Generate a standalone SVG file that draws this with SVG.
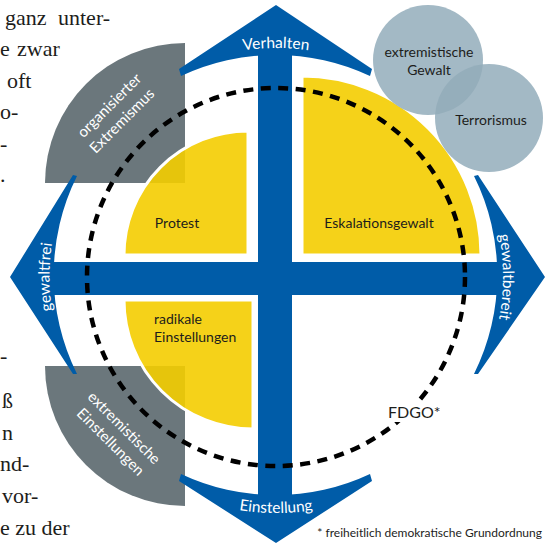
<svg xmlns="http://www.w3.org/2000/svg" width="550" height="543" viewBox="0 0 550 543">
<defs>
<style>
.blue{fill:#005ca8}
.gray{fill:#6b777c}
.yel{fill:#f4cd00;fill-opacity:0.9;stroke:#fff;stroke-width:3}
.lbl{font-family:Lato,"Open Sans",sans-serif;font-size:14px;fill:#1d1d1b}
.fd{font-family:Lato,"Open Sans",sans-serif;font-size:16px;fill:#1d1d1b}
.fn{font-family:Lato,"Open Sans",sans-serif;font-size:12px;fill:#1d1d1b}
.wt{font-family:Lato,"Open Sans",sans-serif;font-size:15px;fill:#fff}
.ax{font-family:Lato,"Open Sans",sans-serif;font-size:15.5px;fill:#fff}
.body{font-family:"Liberation Serif",serif;font-size:22px;fill:#1d1d1b}
.lc{fill:#a3b9c5}
</style>
<path id="pTop" d="M128.8,101.6 A229,229 0 0 1 423.2,101.6"/>
<path id="pBot" d="M124.3,457.8 A236,236 0 0 0 427.7,457.8"/>
<path id="pLeft" d="M102.5,422.6 A226.5,226.5 0 0 1 102.5,131.4"/>
<path id="pRight" d="M449.9,131.1 A227,227 0 0 1 449.9,422.9"/>
<clipPath id="clipC1"><circle cx="428" cy="60" r="55"/></clipPath>
</defs>
<rect width="550" height="543" fill="#fff"/>

<g id="body-text" class="body">
<text x="5" y="25">ganz</text>
<text x="58" y="25">unter-</text>
<text x="0" y="56">e</text>
<text x="17" y="56">zwar</text>
<text x="7" y="88">oft</text>
<text x="0" y="119">o-</text>
<text x="0" y="151">-</text>
<text x="0" y="182">.</text>
<text x="0" y="363">-</text>
<text x="2" y="408">ß</text>
<text x="2" y="440">n</text>
<text x="0" y="471">nd-</text>
<text x="2" y="503">vor-</text>
<text x="0" y="535">e zu der</text>
</g>

<g id="organisierter-extremismus">
<path class="gray" d="M185,183 L45,183 A140,140 0 0 1 185,43 Z"/>
<g transform="translate(113,109) rotate(-45)"><text class="wt" text-anchor="middle">organisierter</text></g>
<g transform="translate(125.5,124.5) rotate(-45)"><text class="wt" text-anchor="middle">Extremismus</text></g>
</g>
<g id="extremistische-einstellungen">
<path class="gray" d="M185,366 L45,366 A140,140 0 0 0 185,506 Z"/>
<g transform="translate(120.5,431.5) rotate(45)"><text class="wt" text-anchor="middle">extremistische</text></g>
<g transform="translate(107,445.5) rotate(45)"><text class="wt" text-anchor="middle">Einstellungen</text></g>
</g>

<g id="connectors">
<path class="blue" d="M276,5 L372,69 L370,76 A222,222 0 0 0 181,76 L179,69 Z"/>
<path class="blue" d="M276,543 L179,481 L181,474 A222,222 0 0 0 370,474 L372,481 Z"/>
<path class="blue" d="M10,277 L73,175 L77,176 A222,222 0 0 0 77,374 L73,374 Z"/>
<path class="blue" d="M545,277 L478,175 L474,176 A222,222 0 0 1 474,374 L478,374 Z"/>
<rect class="blue" x="258" y="45" width="34" height="460"/>
<rect class="blue" x="50" y="262" width="450" height="33"/>
<text class="ax"><textPath href="#pTop" startOffset="50%" text-anchor="middle">Verhalten</textPath></text>
<text class="ax"><textPath href="#pBot" startOffset="50%" text-anchor="middle">Einstellung</textPath></text>
<text class="ax"><textPath href="#pLeft" startOffset="50%" text-anchor="middle">gewaltfrei</textPath></text>
<text class="ax"><textPath href="#pRight" startOffset="50%" text-anchor="middle">gewaltbereit</textPath></text>
</g>

<g id="protest">
<path class="yel" d="M248,255 L124,255 A124,124 0 0 1 248,131 Z"/>
<text class="lbl" x="177" y="228" text-anchor="middle">Protest</text>
</g>
<g id="eskalationsgewalt">
<path class="yel" d="M302,255 L302,76 A179,179 0 0 1 481,255 Z"/>
<text class="lbl" x="379" y="228" text-anchor="middle">Eskalationsgewalt</text>
</g>
<g id="radikale-einstellungen">
<path class="yel" d="M253,300 L124,300 A129,129 0 0 0 253,429 Z"/>
<text class="lbl" x="154" y="324">radikale</text>
<text class="lbl" x="154" y="342">Einstellungen</text>
</g>

<g id="fdgo">
<circle cx="276" cy="277" r="189" fill="none" stroke="#000" stroke-width="4.5" stroke-dasharray="10 7.5"/>
<rect x="385" y="402" width="58" height="20" fill="#fff"/>
<text class="fd" x="388" y="418">FDGO*</text>
</g>

<g id="extremistische-gewalt">
<circle class="lc" cx="428" cy="60" r="55"/>
<text class="lbl" x="429" y="57" text-anchor="middle">extremistische</text>
<text class="lbl" x="429" y="75" text-anchor="middle">Gewalt</text>
</g>
<g id="terrorismus">
<circle class="lc" cx="489" cy="118" r="54"/>
<circle cx="489" cy="118" r="54" fill="#95aebb" clip-path="url(#clipC1)"/>
<text class="lbl" x="491" y="125" text-anchor="middle">Terrorismus</text>
</g>

<text id="footnote" class="fn" x="542" y="537" text-anchor="end">* freiheitlich demokratische Grundordnung</text>
</svg>
